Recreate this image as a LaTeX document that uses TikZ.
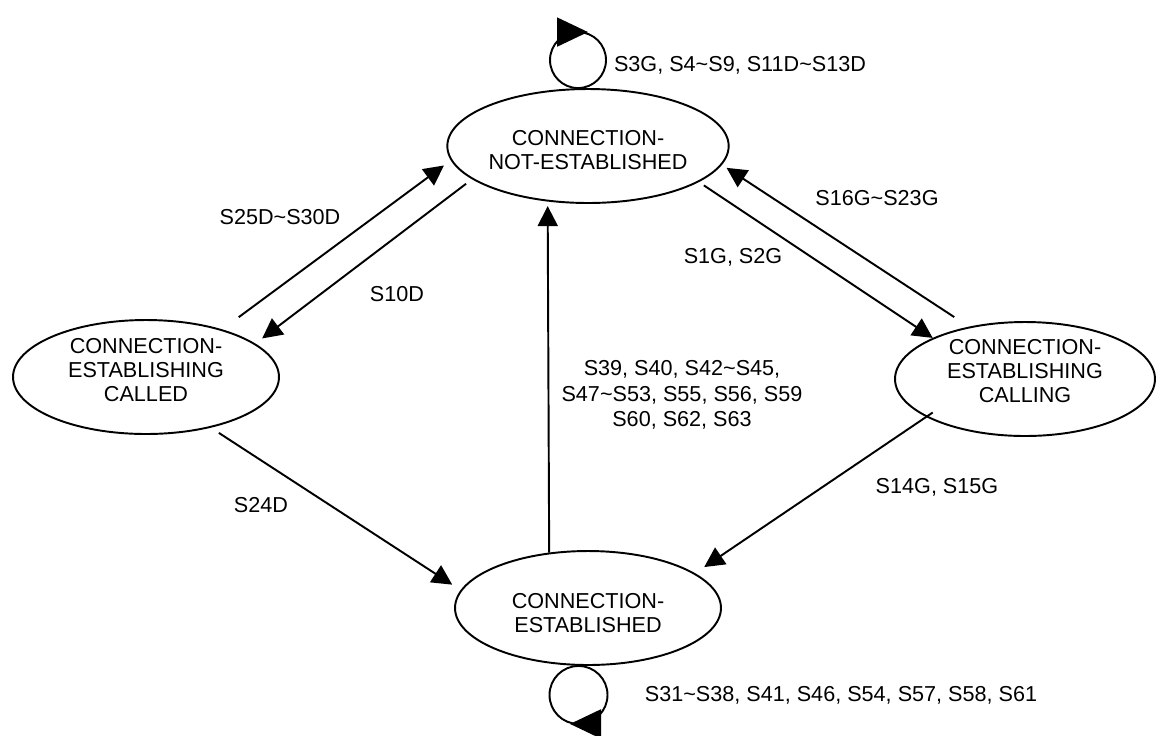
\documentclass[tikz,border=0pt]{standalone}
\usepackage{fontspec}
\setmainfont{Liberation Sans}
\usetikzlibrary{arrows.meta,shapes.geometric}
\newcommand{\statetext}[2]{\raisebox{#1}[\height][\depth]{\begin{tabular}{@{}c@{}}#2\end{tabular}}}
\tikzset{
  statenode/.style={draw, ellipse, line width=1.1pt, minimum width=5.32cm, minimum height=2.28cm, inner sep=0pt, font=\fontsize{12.3}{13.7}\selectfont},
  translabel/.style={inner sep=0pt, align=center, font=\fontsize{12.3}{14.4}\selectfont},
  transedge/.style={line width=1.1pt, -{Triangle[length=0.4cm, width=0.4cm]}},
  loopedge/.style={line width=1.1pt, -{Triangle[length=0.62cm, width=0.58cm]}}
}

\begin{document}
\begin{tikzpicture}[x=0.02cm, y=-0.02cm]
  \useasboundingbox (0,0) rectangle (1156,735);
  \node[statenode] (notest) at (588,146) {\statetext{-0.14cm}{CONNECTION-\\NOT-ESTABLISHED}};
  \node[statenode] (called) at (146,377) {\statetext{0.08cm}{CONNECTION-\\ESTABLISHING\\CALLED}};
  \node[statenode, minimum width=5.2cm] (calling) at (1025,379) {\statetext{0.1cm}{CONNECTION-\\ESTABLISHING\\CALLING}};
  \node[statenode] (estab) at (588,608) {\statetext{-0.16cm}{CONNECTION-\\ESTABLISHED}};

  \draw[transedge, shorten <=0.41cm, shorten >=0.17cm] (called.32.3) -- (notest.186.6);
  \draw[transedge, shorten <=0.15cm, shorten >=0.17cm] (notest.196.8) -- (called.17.5);
  \draw[transedge, shorten <=0.35cm, shorten >=0.11cm] (calling.137.6) -- (notest.352.5);
  \draw[transedge, shorten <=0.12cm] (notest.342.5) -- (calling.156);
  \draw[transedge, shorten <=0.19cm, shorten >=0.2cm] (called.322.5) -- (estab.172.1);
  \draw[transedge, shorten <=-0.16cm, shorten >=0.22cm] (calling.201.6) -- (estab.18.5);
  \draw[transedge, shorten >=0.09cm] (estab.125.1) -- (notest.234.4);

  \draw[loopedge] ([xshift=-0.2cm, yshift=1.12cm]notest.north) arc[start angle=90, end angle=-270, radius=0.56cm] -- ++(0.2cm,0);
  \draw[loopedge] ([xshift=-0.19cm, yshift=-1.16cm]estab.south) arc[start angle=270, end angle=-90, radius=0.58cm] -- ++(-0.17cm,0);

  \node[translabel] (lblnotest) at (740,65) {S3G, S4\textasciitilde S9, S11D\textasciitilde S13D};
  \node[translabel] (lblestab) at (841,695) {S31\textasciitilde S38, S41, S46, S54, S57, S58, S61};
  \node[translabel] (lblcallup) at (280,217) {S25D\textasciitilde S30D};
  \node[translabel] (lblcalldown) at (397,294) {S10D};
  \node[translabel] (lblcallingup) at (877,198) {S16G\textasciitilde S23G};
  \node[translabel] (lblcallingdown) at (733,257) {S1G, S2G};
  \node[translabel] (lblcalled) at (261,505) {S24D};
  \node[translabel] (lblcalling) at (937,487) {S14G, S15G};
  \node[translabel] (lblrelease) at (682,395) {S39, S40, S42\textasciitilde S45,\\S47\textasciitilde S53, S55, S56, S59\\S60, S62, S63};
\end{tikzpicture}
\end{document}
